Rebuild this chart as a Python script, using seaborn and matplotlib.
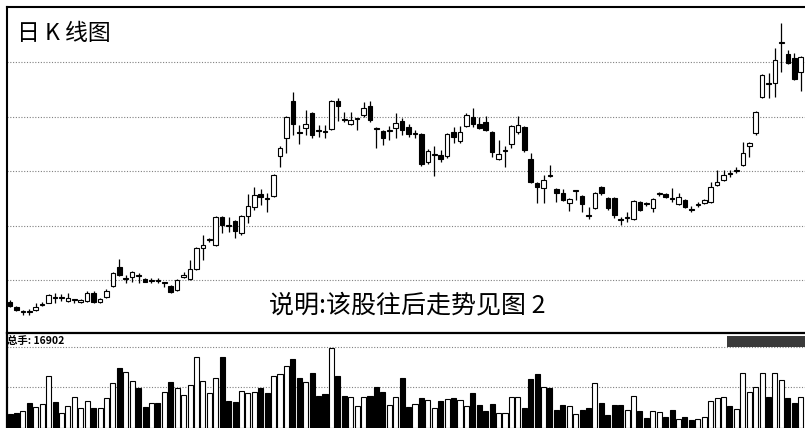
import matplotlib
matplotlib.use("Agg")
import matplotlib.pyplot as plt
from matplotlib.patches import Rectangle
import numpy as np
import pandas as pd
import seaborn as sns

# daily candles (arbitrary price units)
opens = [28, 23, 18, 19, 20, 25, 27, 33, 32, 29, 30, 28, 29, 37, 28, 33, 44, 63, 51, 53,
         55, 51, 49, 50, 47, 44, 40, 53, 51, 61, 82, 90, 85, 113, 105, 109, 97, 114, 123, 136,
         132, 134, 174, 192, 229, 198, 202, 217, 200, 199, 201, 229, 211, 206, 211, 215, 224, 202, 199, 199,
         202, 209, 203, 196, 196, 168, 175, 175, 174, 198, 189, 204, 213, 206, 208, 198, 171, 179, 186, 198,
         203, 171, 147, 142, 155, 141, 137, 127, 139, 134, 115, 122, 143, 132, 132, 111, 112, 111, 128, 127,
         122, 136, 136, 132, 126, 130, 121, 125, 127, 128, 145, 150, 157, 159, 165, 184, 197, 233, 247, 247,
         287, 276, 272, 258]
highs = [30, 24, 20, 21, 27, 28, 36, 37, 36, 37, 31, 31, 39, 39, 32, 41, 58, 71, 55, 59,
         57, 52, 52, 52, 48, 45, 51, 58, 70, 83, 95, 92, 114, 114, 113, 110, 115, 136, 143, 141,
         137, 156, 184, 214, 238, 205, 220, 218, 205, 205, 230, 232, 218, 218, 212, 228, 229, 203, 200, 204,
         217, 212, 206, 200, 197, 181, 184, 180, 197, 203, 204, 217, 222, 213, 214, 199, 190, 184, 205, 214,
         204, 177, 148, 155, 165, 142, 141, 132, 140, 135, 123, 138, 144, 133, 133, 113, 118, 130, 129, 128,
         132, 138, 137, 142, 137, 131, 124, 128, 131, 148, 160, 160, 160, 163, 188, 188, 219, 256, 257, 282,
         307, 280, 277, 274]
lows = [23, 19, 15, 15, 19, 24, 27, 27, 29, 28, 27, 27, 28, 27, 27, 32, 43, 54, 47, 48,
        47, 48, 47, 47, 43, 37, 39, 52, 50, 60, 70, 88, 84, 97, 98, 92, 95, 107, 120, 125,
        118, 133, 163, 177, 195, 186, 195, 192, 193, 192, 200, 209, 208, 205, 200, 213, 208, 182, 185, 190,
        192, 195, 193, 192, 164, 166, 154, 168, 172, 187, 187, 203, 203, 201, 199, 173, 170, 163, 182, 196,
        178, 147, 127, 127, 153, 128, 129, 119, 130, 118, 111, 121, 135, 120, 112, 105, 108, 110, 119, 124,
        118, 134, 132, 128, 125, 122, 118, 123, 126, 127, 144, 149, 153, 157, 164, 173, 195, 232, 232, 233,
        258, 266, 250, 239]
closes = [24, 20, 19, 18, 23, 26, 35, 32, 33, 32, 31, 30, 37, 28, 31, 39, 57, 55, 52, 58,
          54, 48, 50, 49, 48, 38, 50, 55, 61, 82, 85, 91, 113, 105, 104, 99, 114, 124, 135, 133,
          131, 155, 182, 213, 206, 197, 206, 195, 199, 198, 229, 224, 210, 210, 212, 222, 210, 201, 192, 200,
          207, 200, 196, 197, 166, 179, 176, 171, 196, 193, 198, 215, 206, 202, 200, 178, 176, 180, 204, 205,
          180, 148, 143, 150, 154, 137, 130, 131, 140, 126, 114, 137, 137, 122, 115, 110, 113, 129, 120, 126,
          131, 137, 133, 131, 133, 123, 120, 126, 130, 143, 148, 155, 156, 160, 177, 187, 218, 255, 246, 270,
          288, 267, 251, 273]
volumes = [42, 46, 51, 74, 64, 71, 157, 79, 44, 66, 94, 61, 81, 59, 59, 91, 134, 181, 169, 142,
           121, 64, 74, 74, 107, 139, 119, 99, 129, 214, 142, 106, 149, 214, 81, 77, 111, 104, 107, 121,
           106, 156, 162, 187, 206, 151, 139, 166, 96, 101, 239, 156, 96, 94, 67, 92, 96, 124, 107, 69,
           94, 149, 62, 72, 89, 84, 59, 81, 86, 89, 84, 66, 106, 69, 52, 72, 46, 46, 94, 92,
           61, 146, 162, 124, 119, 54, 69, 66, 42, 54, 61, 136, 76, 39, 69, 69, 54, 97, 51, 29,
           52, 49, 34, 54, 26, 34, 24, 27, 32, 82, 89, 94, 66, 57, 166, 109, 124, 166, 92, 166,
           144, 89, 74, 92]

grid_levels = [50, 104, 159, 213, 268]
vol_grid_levels = [122, 242]

title_text = "日 K 线图"
note_text = "说明:该股往后走势见图 2"
vol_label = "总手: 16902"

sns.set_theme(style="white")
plt.rcParams['font.family'] = ['Noto Sans CJK SC', 'DejaVu Sans']

df = pd.DataFrame({"open": opens, "high": highs, "low": lows,
                   "close": closes, "volume": volumes})
df["day"] = np.arange(len(df))
df["dir"] = np.where(df["close"] >= df["open"], "up", "down")
fills = {"up": "white", "down": "black"}

W, H = 805, 428
fig = plt.figure(figsize=(W / 100, H / 100), dpi=100)
fig.patch.set_facecolor("white")

# price panel
ax = fig.add_axes([7 / W, 96 / H, 798 / W, 325 / H])
for lvl in grid_levels:
    ax.axhline(lvl, color="#808080", lw=0.8, ls=(0, (1, 1.5)), zorder=0)
ax.vlines(df["day"], df["low"], df["high"], color="black", lw=0.9, zorder=2)
body_low = np.minimum(df["open"], df["close"])
body_h = np.maximum(np.abs(df["close"] - df["open"]), 0.8)
ax.bar(df["day"], body_h, bottom=body_low, width=0.7,
       color=[fills[d] for d in df["dir"]], edgecolor="black", linewidth=0.8, zorder=3)
ax.set_xlim(-0.47, 123.67)
ax.set_ylim(-2, 323)
ax.set_xticks([])
ax.set_yticks([])
for side in ["left", "top"]:
    ax.spines[side].set_color("black")
    ax.spines[side].set_linewidth(1.5)
ax.spines["right"].set_visible(False)
ax.spines["bottom"].set_visible(False)

# volume panel
axv = fig.add_axes([7 / W, 0, 798 / W, 95 / H])
for lvl in vol_grid_levels:
    axv.axhline(lvl, color="#808080", lw=0.8, ls=(0, (1, 1.5)), zorder=0)
sns.barplot(data=df, x="day", y="volume", hue="dir", palette=fills,
            edgecolor="black", linewidth=0.8, width=0.78, dodge=False,
            legend=False, ax=axv, zorder=2)
axv.set_xlim(-0.47, 123.67)
axv.set_ylim(0, 285)
axv.set_xticks([])
axv.set_yticks([])
axv.set_xlabel("")
axv.set_ylabel("")
for side in ["left", "top"]:
    axv.spines[side].set_color("black")
    axv.spines[side].set_linewidth(1.6)
axv.spines["right"].set_visible(False)
axv.spines["bottom"].set_visible(False)
axv.add_patch(Rectangle((111.5, 243), 13, 33, facecolor="#3a3a3a",
                        edgecolor="none", zorder=4))

fig.text(17 / W, 1 - 34 / H, title_text, fontsize=16.5, color="black",
         ha="left", va="center")
fig.text(407 / W, 1 - 305 / H, note_text, fontsize=18, color="black",
         ha="center", va="center")
fig.text(7 / W, 1 - 341 / H, vol_label, fontsize=7.5, color="black",
         fontweight="bold", ha="left", va="center")

fig.savefig("out.png", dpi=100, facecolor="white")
